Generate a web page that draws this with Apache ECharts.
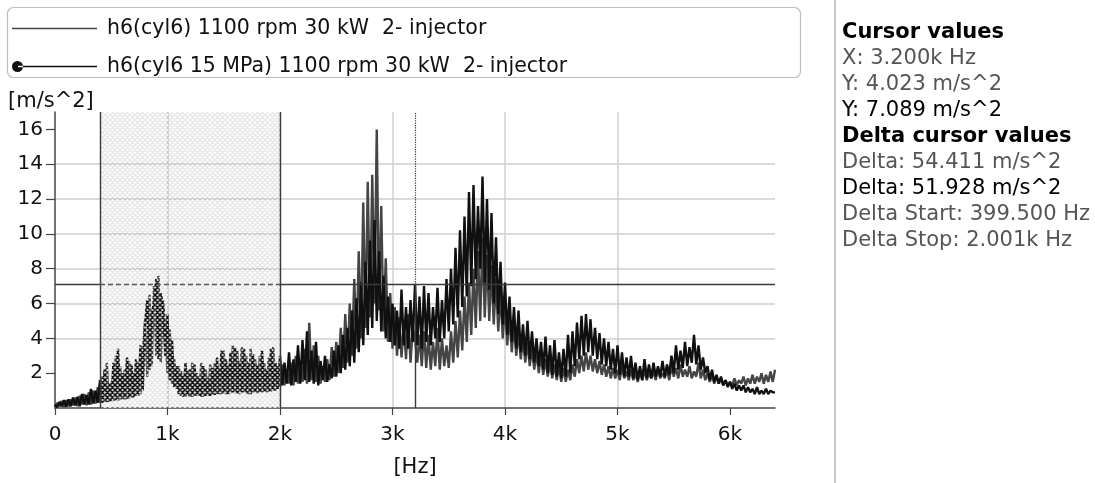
<!DOCTYPE html>
<html><head><meta charset="utf-8">
<script src="https://cdn.jsdelivr.net/npm/echarts@6/dist/echarts.min.js"></script>
<style>html,body{margin:0;padding:0;background:#fff}#c{width:1095px;height:483px}</style>
</head><body><div id="c"></div>
<script>
const seriesNames = [
  'h6(cyl6) 1100 rpm 30 kW  2- injector',
  'h6(cyl6 15 MPa) 1100 rpm 30 kW  2- injector'
];
const freqStepHz = 20;
// gray series: h6(cyl6) 1100 rpm 30 kW
const s1 = [
  0.05, 0.3, 0.1, 0.4, 0.05,
  0.45, 0.1, 0.5, 0.15, 0.6,
  0.1, 0.7, 0.2, 0.8, 0.15,
  0.9, 0.2, 1.0, 0.25, 1.2,
  0.3, 1.8, 0.3, 2.6, 0.35,
  1.5, 0.4, 3.0, 0.4, 2.4,
  0.5, 2.2, 0.5, 2.7, 0.6,
  2.0, 0.7, 2.6, 0.8, 3.0,
  5.0, 1.8, 6.5, 2.4, 7.0,
  3.0, 7.6, 2.6, 6.2, 4.6,
  2.0, 4.5, 1.4, 2.8, 1.1,
  2.4, 0.7, 1.9, 0.65, 2.2,
  0.65, 2.6, 0.7, 2.0, 0.7,
  2.6, 0.65, 2.2, 0.7, 2.5,
  0.75, 2.6, 0.8, 2.2, 0.8,
  3.3, 0.8, 2.5, 0.85, 3.6,
  0.85, 3.3, 0.8, 3.5, 0.9,
  3.0, 0.8, 3.4, 0.9, 2.8,
  0.85, 3.0, 0.9, 2.6, 0.9,
  2.9, 0.95, 3.5, 1.0, 2.4,
  1.2, 2.5, 1.3, 2.2, 1.4,
  2.6, 1.3, 3.0, 1.4, 2.7,
  1.5, 3.4, 1.4, 4.9, 1.6,
  3.6, 1.5, 3.0, 1.4, 2.4,
  1.5, 2.8, 1.6, 3.5, 1.8,
  3.8, 2.0, 4.6, 2.3, 5.4,
  2.6, 6.0, 3.0, 7.4, 3.4,
  9.0, 4.0, 11.8, 4.6, 13.0,
  5.2, 13.4, 6.0, 16.0, 5.6,
  11.6, 4.4, 8.6, 3.8, 6.6,
  3.4, 5.8, 3.0, 5.2, 2.9,
  4.8, 2.8, 5.4, 2.6, 4.6,
  4.0, 2.6, 4.2, 2.4, 4.4,
  2.3, 4.2, 2.2, 3.8, 2.4,
  4.6, 2.2, 4.0, 2.4, 3.6,
  2.3, 4.4, 2.6, 5.0, 2.9,
  5.6, 3.3, 6.4, 3.8, 7.2,
  4.2, 8.0, 4.6, 9.0, 5.0,
  9.8, 5.2, 8.8, 5.0, 8.2,
  4.8, 7.4, 4.4, 6.6, 4.0,
  6.0, 3.6, 5.4, 3.2, 4.8,
  3.0, 4.4, 2.8, 4.0, 2.6,
  3.8, 2.4, 3.4, 2.2, 3.2,
  2.0, 3.0, 1.9, 2.8, 1.8,
  2.6, 1.7, 2.5, 1.6, 2.4,
  1.5, 2.3, 1.5, 2.2, 1.6,
  2.5, 1.8, 2.8, 2.0, 3.0,
  2.1, 3.2, 2.2, 3.0, 2.1,
  2.8, 2.0, 2.7, 1.9, 2.5,
  1.8, 2.4, 1.7, 2.3, 1.7,
  2.2, 1.6, 2.4, 1.7, 2.1,
  1.6, 2.2, 1.6, 2.0, 1.5,
  2.1, 1.6, 2.2, 1.6, 2.0,
  1.7, 2.1, 1.6, 2.3, 1.7,
  2.0, 1.7, 2.2, 1.6, 2.4,
  1.8, 2.3, 1.7, 2.5, 1.8,
  2.2, 1.8, 2.4, 1.7, 2.1,
  1.8, 2.6, 1.7, 2.2, 1.6,
  2.0, 1.5, 1.9, 1.4, 1.8,
  1.4, 1.7, 1.3, 1.6, 1.3,
  1.5, 1.3, 1.7, 1.3, 1.6,
  1.4, 1.8, 1.3, 1.7, 1.4,
  1.9, 1.4, 1.8, 1.5, 2.0,
  1.4, 1.9, 1.5, 2.1, 1.5,
  2.2
];
// black series: h6(cyl6 15 MPa) 1100 rpm 30 kW
const s2 = [
  0.2, 0.05, 0.35, 0.1, 0.45,
  0.08, 0.5, 0.1, 0.6, 0.15,
  0.65, 0.1, 0.8, 0.2, 0.75,
  0.2, 1.1, 0.25, 1.0, 0.3,
  1.6, 0.3, 2.2, 0.35, 1.4,
  0.4, 2.6, 0.45, 3.4, 0.5,
  2.0, 0.5, 2.9, 0.55, 2.5,
  0.6, 2.8, 0.7, 3.6, 1.0,
  4.8, 6.2, 2.2, 5.4, 6.0,
  7.4, 2.8, 6.6, 5.8, 3.0,
  5.4, 1.6, 3.9, 1.2, 2.4,
  0.8, 2.1, 0.65, 2.6, 0.7,
  2.2, 0.65, 2.5, 0.7, 1.8,
  0.65, 2.4, 0.7, 1.7, 0.7,
  2.3, 0.75, 2.9, 0.8, 3.3,
  0.85, 2.8, 0.8, 3.2, 0.9,
  3.5, 0.85, 2.7, 0.9, 3.4,
  0.85, 2.6, 0.8, 3.1, 0.9,
  2.5, 0.9, 3.3, 0.95, 2.2,
  0.95, 3.4, 1.0, 2.6, 1.1,
  3.0, 1.3, 2.6, 1.4, 3.2,
  1.3, 2.8, 1.5, 3.6, 1.4,
  3.9, 1.6, 4.4, 1.5, 3.3,
  1.4, 3.8, 1.3, 2.7, 1.6,
  3.0, 1.5, 2.5, 1.7, 3.3,
  1.8, 3.6, 2.0, 4.2, 2.2,
  4.6, 2.4, 5.6, 2.6, 6.3,
  3.2, 7.2, 3.6, 8.4, 4.2,
  9.6, 4.6, 10.8, 5.0, 9.0,
  4.4, 7.6, 4.0, 6.4, 3.8,
  6.0, 3.6, 5.6, 3.4, 6.8,
  3.6, 5.8, 3.4, 6.2, 3.8,
  7.1, 3.6, 6.4, 3.4, 7.0,
  3.8, 6.6, 3.6, 5.8, 4.0,
  6.9, 3.8, 6.2, 4.0, 7.4,
  4.4, 8.0, 4.8, 9.2, 5.2,
  10.2, 5.8, 11.0, 6.4, 12.4,
  7.0, 12.8, 7.4, 11.6, 8.0,
  13.3, 7.2, 12.0, 6.8, 11.2,
  6.0, 9.8, 5.4, 8.4, 4.8,
  7.2, 4.2, 6.4, 3.8, 5.8,
  3.4, 5.6, 3.2, 4.8, 3.0,
  5.0, 2.8, 4.4, 2.6, 4.0,
  2.4, 3.8, 2.2, 4.1, 2.0,
  3.6, 1.9, 3.9, 1.8, 3.2,
  1.7, 3.4, 1.8, 4.2, 2.0,
  4.4, 2.4, 4.9, 2.8, 5.3,
  3.0, 5.4, 3.2, 5.1, 3.0,
  4.6, 2.8, 4.3, 2.5, 4.0,
  2.4, 3.8, 2.2, 3.4, 2.0,
  3.6, 1.9, 3.2, 1.8, 2.9,
  1.8, 3.0, 1.7, 2.6, 1.6,
  2.4, 1.6, 2.8, 1.7, 2.5,
  1.7, 2.6, 1.8, 2.4, 1.8,
  2.7, 1.8, 2.5, 1.9, 3.0,
  2.0, 3.6, 2.2, 3.3, 2.3,
  3.8, 2.4, 3.5, 2.6, 4.2,
  2.5, 3.6, 2.2, 2.9, 2.0,
  2.4, 1.6, 2.2, 1.5, 1.9,
  1.4, 1.8, 1.3, 1.6, 1.2,
  1.5, 1.1, 1.4, 1.0, 1.3,
  1.0, 1.3, 0.9, 1.2, 0.9,
  1.1, 0.8, 1.2, 0.8, 1.0,
  0.8, 1.1, 0.8, 1.0, 0.9,
  0.9
];
const xTicks = [0, 1000, 2000, 3000, 4000, 5000, 6000];
const yTicks = [2, 4, 6, 8, 10, 12, 14, 16];
const xMax = 6400, yMax = 17;
const deltaRange = [399.5, 2001];
const cursorX = 3200, cursorY1 = 4.023, cursorY2 = 7.089;
const infoLines = [
  ['Cursor values', 'bold'],
  ['X: 3.200k Hz', 'gray'],
  ['Y: 4.023 m/s^2', 'gray'],
  ['Y: 7.089 m/s^2', 'black'],
  ['Delta cursor values', 'bold'],
  ['Delta: 54.411 m/s^2', 'gray'],
  ['Delta: 51.928 m/s^2', 'black'],
  ['Delta Start: 399.500 Hz', 'gray'],
  ['Delta Stop: 2.001k Hz', 'gray']
];

const FONT = '"DejaVu Sans", Verdana, sans-serif';
const pairs = arr => arr.map((v, i) => [i * freqStepHz, v]);

// crosshatch overlay pattern for the delta region
function makePattern() {
  const N = 5;
  const c = document.createElement('canvas');
  c.width = N; c.height = N;
  const g = c.getContext('2d');
  g.fillStyle = 'rgba(255,255,255,0.78)';
  g.fillRect(0, 0, N, N);
  const drawLines = () => {
    g.beginPath();
    for (const k of [-N, 0, N]) {
      g.moveTo(k - 1, -1); g.lineTo(k + N + 1, N + 1);
      g.moveTo(k + N + 1, -1); g.lineTo(k - 1, N + 1);
    }
    g.stroke();
  };
  g.lineWidth = 1.5;
  g.globalCompositeOperation = 'destination-out';
  g.strokeStyle = '#000';
  drawLines();
  g.globalCompositeOperation = 'source-over';
  g.strokeStyle = 'rgba(0,0,0,0.09)';
  drawLines();
  return c;
}
const pattern = makePattern();

const chart = echarts.init(document.getElementById('c'), null, {renderer: 'canvas'});

const graphics = [
  {type: 'rect', shape: {x: 7.5, y: 7.5, width: 793, height: 70, r: 6},
   style: {fill: 'none', stroke: '#bdbdbd', lineWidth: 1.2}, silent: true},
  {type: 'line', shape: {x1: 835, y1: 0, x2: 835, y2: 483},
   style: {stroke: '#c8c8c8', lineWidth: 2}, silent: true},
  {type: 'text', x: 8, y: 102, style: {text: '[m/s^2]', font: '21px ' + FONT, fill: '#111', verticalAlign: 'middle'}}
];
infoLines.forEach((l, i) => {
  graphics.push({
    type: 'text', x: 842, y: 33 + i * 26,
    style: {
      text: l[0],
      font: (l[1] === 'bold' ? 'bold ' : '') + '21px ' + FONT,
      fill: l[1] === 'gray' ? '#555' : '#000',
      verticalAlign: 'middle'
    }
  });
});

const iconLine = 'path://M0,0M90,12M0,5.3L85,5.3L85,6.7L0,6.7Z';
const iconDot = 'path://M0,0M90,12M0,6A5.5,5.5,0,1,0,11,6A5.5,5.5,0,1,0,0,6ZM6,5.3L85,5.3L85,6.7L6,6.7Z';

chart.setOption({
  animation: false,
  backgroundColor: '#fff',
  grid: {left: 55, right: 320, top: 112, bottom: 72, containLabel: false},
  legend: {
    orient: 'vertical', left: 7, top: 11, itemWidth: 90, itemHeight: 12, itemGap: 13,
    textStyle: {fontFamily: FONT, fontSize: 20.5, color: '#111', lineHeight: 25},
    data: [{name: seriesNames[0], icon: iconLine}, {name: seriesNames[1], icon: iconDot}],
    selectedMode: false
  },
  graphic: graphics,
  xAxis: {
    type: 'value', min: 0, max: xMax, interval: 1000,
    name: '[Hz]', nameLocation: 'middle', nameGap: 49,
    nameTextStyle: {fontFamily: FONT, fontSize: 21, color: '#111'},
    axisLine: {lineStyle: {color: '#444', width: 1.5}},
    axisTick: {show: true, length: 7, lineStyle: {color: '#444', width: 1.2}, customValues: xTicks},
    axisLabel: {fontFamily: FONT, fontSize: 20, color: '#111', margin: 17, customValues: xTicks,
      formatter: v => v === 0 ? '0' : (v / 1000) + 'k'},
    splitLine: {show: true, showMaxLine: false, showMinLine: false, lineStyle: {color: '#cfcfcf', width: 1.5}}
  },
  yAxis: {
    type: 'value', min: 0, max: yMax, interval: 2,
    axisLine: {show: true, lineStyle: {color: '#444', width: 1.5}},
    axisTick: {show: true, length: 9, lineStyle: {color: '#444', width: 1.2}, customValues: yTicks},
    axisLabel: {fontFamily: FONT, fontSize: 20, color: '#111', margin: 12, customValues: yTicks},
    splitLine: {show: true, showMaxLine: false, showMinLine: false, lineStyle: {color: '#cfcfcf', width: 1.5}}
  },
  series: [
    {
      name: seriesNames[0], type: 'line', data: pairs(s1), showSymbol: false, symbol: 'none',
      lineStyle: {color: '#454545', width: 2.4}, itemStyle: {color: '#454545'}, z: 2, silent: true
    },
    {
      name: seriesNames[1], type: 'line', data: pairs(s2), showSymbol: false, symbol: 'none',
      lineStyle: {color: '#101010', width: 2.4}, itemStyle: {color: '#101010'}, z: 2, silent: true,
      markLine: {
        silent: true, symbol: 'none', label: {show: false},
        lineStyle: {color: '#3a3a3a', width: 1.4, type: 'solid'},
        data: [
          {xAxis: deltaRange[0]},
          {xAxis: deltaRange[1]},
          [{coord: [0, cursorY2]}, {coord: [deltaRange[0], cursorY2]}],
          [{coord: [deltaRange[0], cursorY2], lineStyle: {type: [5, 3], color: '#555'}}, {coord: [deltaRange[1], cursorY2]}],
          [{coord: [deltaRange[1], cursorY2]}, {coord: [xMax, cursorY2]}],
          [{coord: [cursorX, 0]}, {coord: [cursorX, cursorY2]}],
          [{coord: [cursorX, cursorY2], lineStyle: {type: 'dotted', width: 1.2}}, {coord: [cursorX, yMax]}]
        ]
      }
    },
    {
      name: 'deltaRegion', type: 'custom', z: 3, silent: true,
      data: [[deltaRange[0], deltaRange[1]]],
      encode: {x: [0, 1]},
      renderItem: (params, api) => {
        const p0 = api.coord([api.value(0), yMax]);
        const p1 = api.coord([api.value(1), 0]);
        return {type: 'rect', shape: {x: p0[0], y: p0[1], width: p1[0] - p0[0], height: p1[1] - p0[1]},
          style: {fill: {image: pattern, repeat: 'repeat'}}};
      }
    }
  ]
});
</script></body></html>
